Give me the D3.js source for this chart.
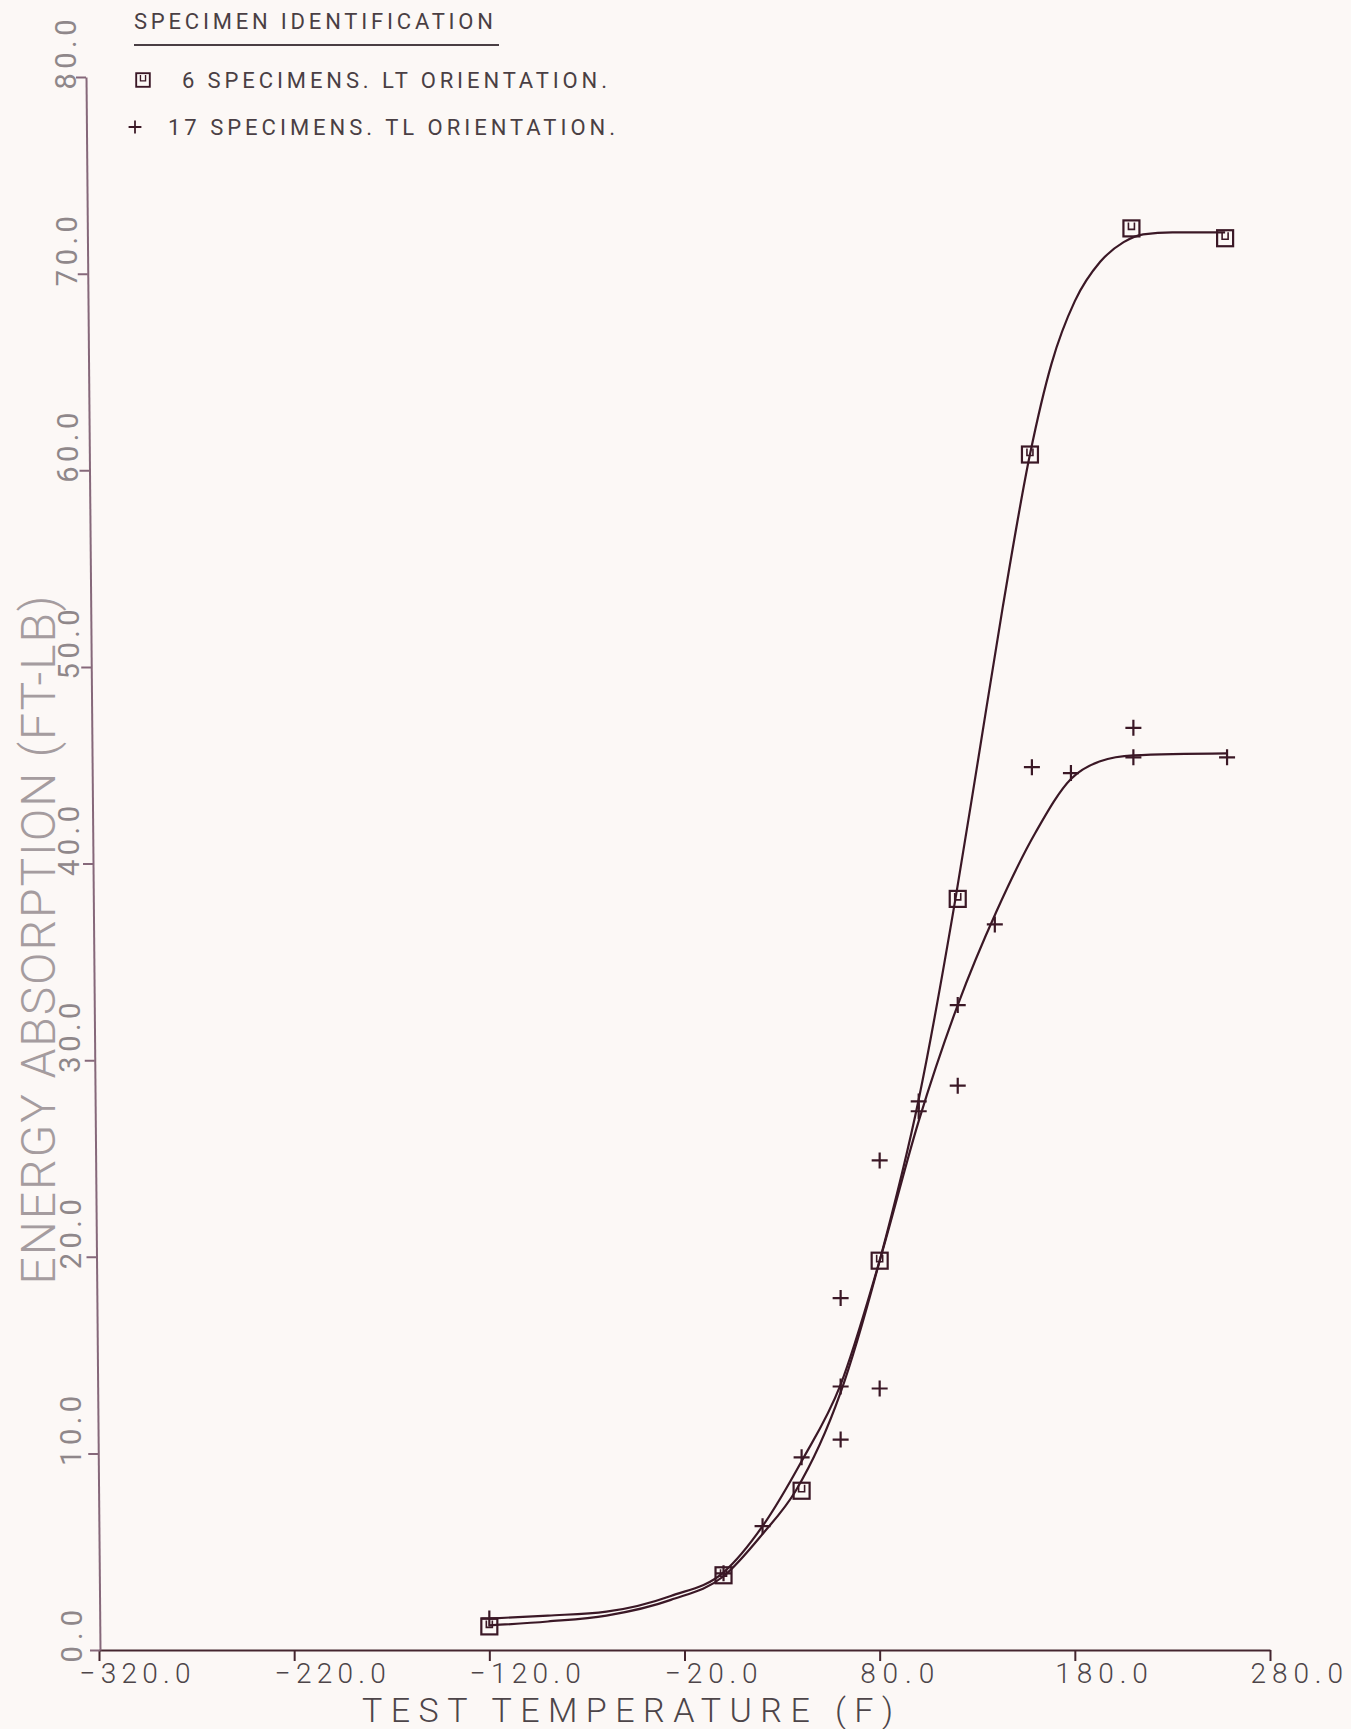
<!DOCTYPE html>
<html><head><meta charset="utf-8">
<script src="https://cdn.jsdelivr.net/npm/d3@7"></script>
<style>html,body{margin:0;padding:0;background:#fcf8f6;} svg{display:block}</style>
</head><body>
<svg id="chart" width="1351" height="1729"></svg>
<script>
// ---- data ----
const xTicks = [-320, -220, -120, -20, 80, 180, 280];
const yTicks = [0, 10, 20, 30, 40, 50, 60, 70, 80];

// LT orientation specimens (squares)
const ltTemp   = [-120, 0, 40, 80, 120, 157, 209, 257];
const ltEnergy = [1.2, 3.8, 8.1, 19.8, 38.2, 60.8, 72.3, 71.8];

// TL orientation specimens (plus signs)
const tlTemp   = [-120, 0, 20, 40, 60, 60, 60, 80, 80, 100, 100, 120, 120, 139, 158, 178, 210, 210, 258];
const tlEnergy = [1.6, 3.9, 6.3, 9.8, 17.9, 13.4, 10.7, 24.9, 13.3, 27.9, 27.4, 32.8, 28.7, 36.9, 44.9, 44.6, 46.9, 45.4, 45.4];

// fitted curves
const ltCurveT = [-120, -90, -60, -27, 0, 20, 37, 60, 80, 100, 119, 130, 143, 157, 168, 180, 193, 205, 215, 230, 257];
const ltCurveE = [1.25, 1.45, 1.75, 2.55, 3.75, 5.9, 8.1, 13.1, 19.8, 28.0, 38.3, 45.0, 53.0, 60.8, 65.4, 68.6, 70.6, 71.6, 72.0, 72.1, 72.1];
const tlCurveT = [-120, -90, -60, -27, 0, 20, 40, 60, 80, 100, 120, 140, 160, 178, 193, 210, 258];
const tlCurveE = [1.6, 1.75, 1.95, 2.75, 3.95, 6.3, 9.6, 13.5, 19.8, 26.9, 32.8, 37.6, 41.6, 44.3, 45.2, 45.5, 45.6];

const legendTitle = "SPECIMEN IDENTIFICATION";
const legendLT = "6 SPECIMENS. LT ORIENTATION.";
const legendTL = "17 SPECIMENS. TL ORIENTATION.";
const xTitle = "TEST TEMPERATURE (F)";
const yTitle = "ENERGY ABSORPTION (FT-LB)";

// ---- drawing ----
const FONT = "Roboto, 'Open Sans', 'DejaVu Sans', sans-serif";
const INK = "#3b1826";
const svg = d3.select("#chart");
svg.append("rect").attr("width", 1351).attr("height", 1729).attr("fill", "#fcf8f6");

const x = d3.scaleLinear().domain([-320, 280]).range([99, 1270]);
const y = d3.scaleLinear().domain([0, 80]).range([1650, 77]);
const fmt = d3.format(".1f");

// X axis
const gx = svg.append("g").attr("transform", "translate(0,1650)")
  .call(d3.axisBottom(x).tickValues(xTicks).tickSize(11).tickSizeOuter(0).tickFormat(fmt));
gx.select(".domain").attr("stroke", "#45262f").attr("stroke-width", 2);
gx.selectAll(".tick line").attr("stroke", "#45262f").attr("stroke-width", 2);
gx.selectAll(".tick text")
  .attr("text-anchor", "start").attr("x", -20).attr("y", 33).attr("dy", 0)
  .attr("fill", "#4d4549").attr("font-family", FONT).attr("font-weight", 300)
  .attr("font-size", 28)
  .attr("textLength", d => fmt(d).length * 18.5).attr("lengthAdjust", "spacing");

// Y axis (slightly tilted as in the scan)
const t = 14 / 1573;
const gy = svg.append("g")
  .attr("transform", `translate(${100 - 1650 * t},0) skewX(${Math.atan(t) * 180 / Math.PI})`)
  .call(d3.axisLeft(y).tickValues(yTicks).tickSize(10).tickSizeOuter(0).tickFormat(""));
gy.select(".domain").attr("stroke", "#86687a").attr("stroke-width", 2);
gy.selectAll(".tick line").attr("stroke", "#86687a").attr("stroke-width", 2);

const gyl = svg.append("g")
  .call(d3.axisLeft(y).tickValues(yTicks).tickSize(0).tickFormat(fmt));
gyl.select(".domain").remove();
gyl.selectAll(".tick text")
  .attr("transform", "rotate(-90)")
  .attr("text-anchor", "start").attr("x", -12)
  .attr("y", d => 66 + (y(d) - 77) / 1573 * 5.5).attr("dy", "0.36em")
  .attr("fill", "#8f878a").attr("font-family", FONT).attr("font-weight", 400)
  .attr("font-size", 29)
  .attr("textLength", d => fmt(d).length * 17.5).attr("lengthAdjust", "spacing");

// Axis titles
svg.append("text").text(xTitle)
  .attr("x", 362).attr("y", 1722)
  .attr("fill", "#4d4549").attr("font-family", FONT).attr("font-weight", 300)
  .attr("font-size", 34).attr("textLength", 531).attr("lengthAdjust", "spacing");
svg.append("text").text(yTitle)
  .attr("transform", "translate(38,940) rotate(-90)")
  .attr("text-anchor", "middle").attr("dy", "0.36em")
  .attr("fill", "#a59c9f").attr("font-family", FONT).attr("font-weight", 300)
  .attr("font-size", 48).attr("textLength", 689).attr("lengthAdjust", "spacing");

// Curves
const line = d3.line().x(d => x(d[0])).y(d => y(d[1])).curve(d3.curveMonotoneX);
svg.append("path").datum(d3.zip(ltCurveT, ltCurveE)).attr("d", line)
  .attr("fill", "none").attr("stroke", INK).attr("stroke-width", 2.2);
svg.append("path").datum(d3.zip(tlCurveT, tlCurveE)).attr("d", line)
  .attr("fill", "none").attr("stroke", INK).attr("stroke-width", 2.2);

// Markers
function squareMark(g) {
  g.append("rect").attr("x", -8).attr("y", -8).attr("width", 16).attr("height", 16)
    .attr("fill", "none").attr("stroke", INK).attr("stroke-width", 2.2);
  g.append("path").attr("d", "M-3,-6V1H3V-6")
    .attr("fill", "none").attr("stroke", INK).attr("stroke-width", 1.6);
}
function plusMark(g) {
  g.append("path").attr("d", "M-8,0H8M0,-8V8")
    .attr("fill", "none").attr("stroke", INK).attr("stroke-width", 2.2);
}
svg.append("g").selectAll("g").data(d3.zip(ltTemp, ltEnergy)).join("g")
  .attr("transform", d => `translate(${x(d[0])},${y(d[1])})`)
  .each(function () { squareMark(d3.select(this)); });
svg.append("g").selectAll("g").data(d3.zip(tlTemp, tlEnergy)).join("g")
  .attr("transform", d => `translate(${x(d[0])},${y(d[1])})`)
  .each(function () { plusMark(d3.select(this)); });

// Legend
const LFONT = 22;
svg.append("text").text(legendTitle).attr("x", 134).attr("y", 29)
  .attr("fill", "#4a3f44").attr("font-family", FONT).attr("font-weight", 400)
  .attr("font-size", LFONT).attr("textLength", 359).attr("lengthAdjust", "spacing");
svg.append("line").attr("x1", 134).attr("x2", 499).attr("y1", 45).attr("y2", 45)
  .attr("stroke", "#4a3f44").attr("stroke-width", 1.8);
squareMark(svg.append("g").attr("transform", "translate(143,80) scale(0.85)"));
svg.append("text").text(legendLT).attr("x", 182).attr("y", 88)
  .attr("fill", "#4a3f44").attr("font-family", FONT).attr("font-weight", 400)
  .attr("font-size", LFONT).attr("textLength", 425).attr("lengthAdjust", "spacing");
plusMark(svg.append("g").attr("transform", "translate(135,127) scale(0.8)"));
svg.append("text").text(legendTL).attr("x", 168).attr("y", 135)
  .attr("fill", "#4a3f44").attr("font-family", FONT).attr("font-weight", 400)
  .attr("font-size", LFONT).attr("textLength", 447).attr("lengthAdjust", "spacing");
</script>
</body></html>
